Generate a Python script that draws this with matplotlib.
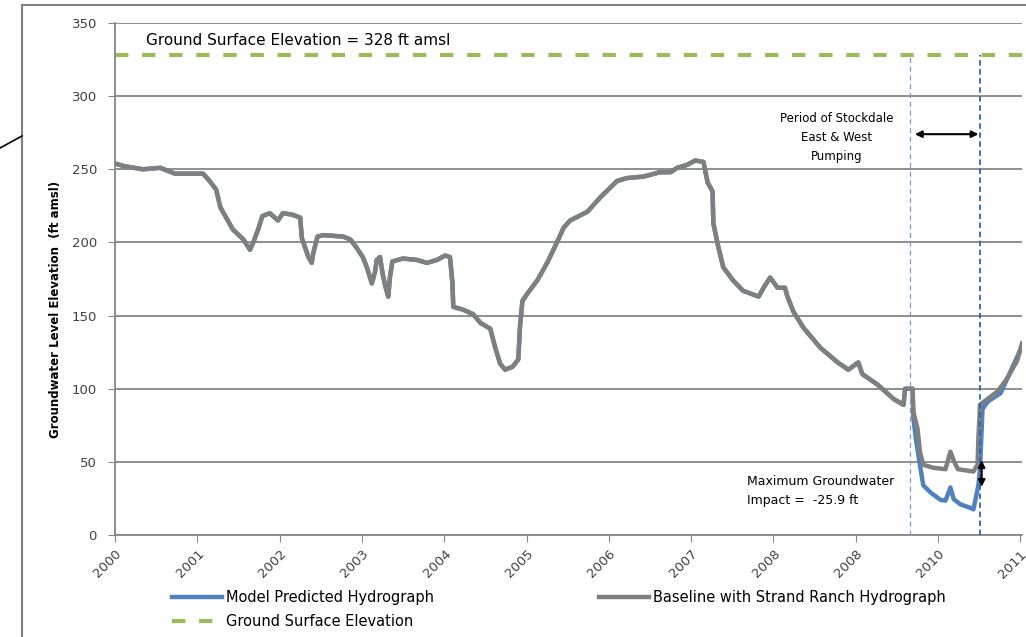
import matplotlib.pyplot as plt
from matplotlib.lines import Line2D

# baseline hydrograph (decimal years since 2000, ft amsl)
base_t = [0.00, 0.12, 0.34, 0.55, 0.73, 1.07, 1.15, 1.23, 1.28, 1.43, 1.56, 1.64, 1.68, 1.74, 1.79,
          1.88, 1.98, 2.04, 2.15, 2.25, 2.27, 2.35, 2.39, 2.41, 2.46, 2.53, 2.77, 2.86, 2.94, 3.01,
          3.06, 3.12, 3.16, 3.18, 3.22, 3.25, 3.28, 3.32, 3.34, 3.37, 3.50, 3.67, 3.79, 3.91, 4.01,
          4.07, 4.10, 4.11, 4.23, 4.35, 4.44, 4.56, 4.62, 4.68, 4.74, 4.83, 4.90, 4.92, 4.95, 5.01,
          5.13, 5.25, 5.37, 5.45, 5.53, 5.74, 5.90, 6.10, 6.22, 6.42, 6.62, 6.75, 6.83, 6.95, 7.05,
          7.15, 7.20, 7.26, 7.27, 7.33, 7.39, 7.51, 7.63, 7.82, 7.88, 7.96, 8.05, 8.14, 8.17, 8.24,
          8.36, 8.57, 8.78, 8.91, 9.03, 9.08, 9.26, 9.46, 9.58, 9.60, 9.69,
          9.70, 9.75, 9.78, 9.82, 9.94, 10.09, 10.15, 10.19, 10.24, 10.43, 10.48, 10.49, 10.51,
          10.60, 10.72, 10.84, 10.96, 11.02]
base_gw = [254, 252, 250, 251, 247, 247, 242, 236, 224, 209, 202, 195, 200, 209, 218,
           220, 215, 220, 219, 217, 203, 190, 186, 193, 204, 205, 204, 202, 196, 190,
           183, 172, 180, 188, 190, 179, 171, 163, 176, 187, 189, 188, 186, 188, 191,
           190, 172, 156, 154, 151, 145, 141, 128, 117, 113, 115, 120, 142, 160, 165,
           174, 186, 200, 210, 215, 221, 231, 242, 244, 245, 248, 248, 251, 253, 256,
           255, 241, 235, 213, 197, 183, 174, 167, 163, 169, 176, 169, 169, 163, 153,
           142, 128, 118, 113, 118, 110, 103, 93, 89, 100, 100,
           84, 73, 57, 48, 46, 45, 57, 51, 45, 43.4, 48, 66, 89,
           93, 98, 107, 119, 131]

# model predicted hydrograph: same as baseline until pumping starts
split = 101
model_t = base_t[:split] + [9.70, 9.73, 9.78, 9.82, 9.91, 10.03, 10.09, 10.15, 10.19, 10.27,
                            10.39, 10.43, 10.49, 10.51, 10.54, 10.60, 10.76, 11.02]
model_gw = base_gw[:split] + [80, 66, 48, 34, 29, 24, 23.5, 32.5, 24.5, 21,
                              18.6, 17.5, 34, 45, 86, 91, 97, 129]

ground_elev = 328
pump_start, pump_end = 9.655, 10.515
year_labels = ['2000', '2001', '2002', '2003', '2004', '2005', '2006', '2007', '2008', '2008', '2010', '2011']

plt.rcParams['font.family'] = ['Liberation Sans Narrow', 'DejaVu Sans']

fig = plt.figure(figsize=(10.26, 6.37), dpi=100)
ax = fig.add_axes([115/1026, 1-535/637, 907/1026, 512/637])

grid_c = '#868686'
for v in range(0, 351, 50):
    ax.axhline(v, color=grid_c, lw=1.3, zorder=1)

ax.plot(model_t, model_gw, color='#4f81bd', lw=3.2, zorder=3, label='Model Predicted Hydrograph')
ax.plot(base_t, base_gw, color='#7f7f7f', lw=3.2, zorder=4, label='Baseline with Strand Ranch Hydrograph')
ax.axhline(ground_elev, color='#9bbb59', lw=3, dashes=(3.2, 3.3), zorder=2, label='Ground Surface Elevation')

ax.vlines(pump_start, 0, ground_elev, colors='#7b9bc8', lw=0.9, linestyles=(0, (4, 3)), zorder=5)
ax.vlines(pump_end, 0, ground_elev, colors='#2e62b8', lw=1.3, linestyles=(0, (3, 2)), zorder=5)

ax.annotate('', xy=(pump_start + 0.03, 274), xytext=(pump_end + 0.01, 274),
            arrowprops=dict(arrowstyle='<|-|>', color='black', lw=1.5, mutation_scale=10), zorder=6)
ax.annotate('', xy=(10.53, 53), xytext=(10.53, 31),
            arrowprops=dict(arrowstyle='<|-|>', color='black', lw=1.5, mutation_scale=10), zorder=6)

ax.text(8.77, 272, 'Period of Stockdale\nEast & West\nPumping', ha='center', va='center',
        fontsize=8.5, linespacing=1.6)
ax.text(7.68, 30, 'Maximum Groundwater\nImpact =  -25.9 ft', ha='left', va='center',
        fontsize=9, linespacing=1.6)
ax.text(0.38, 338, 'Ground Surface Elevation = 328 ft amsl', ha='left', va='center', fontsize=11)

ax.set_xlim(0, 11.02)
ax.set_ylim(0, 350)
ax.set_xticks(range(12))
ax.set_xticklabels(year_labels, rotation=45, ha='right', rotation_mode='anchor',
                   fontsize=9.5, color='#404040')
ax.set_yticks(range(0, 351, 50))
ax.tick_params(axis='y', labelsize=9.5, labelcolor='#404040', color=grid_c, length=5, pad=8)
ax.tick_params(axis='x', color=grid_c, length=5, pad=4)
for s in ['top', 'right']:
    ax.spines[s].set_visible(False)
for s in ['left', 'bottom']:
    ax.spines[s].set_color(grid_c)
    ax.spines[s].set_linewidth(1.3)
ax.set_ylabel('Groundwater Level Elevation  (ft amsl)', fontsize=8.5, fontweight='bold')
ax.yaxis.set_label_coords(-0.058, 0.44)

h = ax.get_lines()
blue, grey, green = h[-3], h[-2], h[-1]
fig.legend([blue, green], [blue.get_label(), green.get_label()], loc='upper left',
           bbox_to_anchor=(165/1026, 1-583/637), frameon=False, fontsize=10.5,
           handlelength=3.4, handletextpad=0.25, labelspacing=0.6, borderpad=0)
fig.legend([grey], [grey.get_label()], loc='upper left',
           bbox_to_anchor=(592/1026, 1-583/637), frameon=False, fontsize=10.5,
           handlelength=3.4, handletextpad=0.25, borderpad=0)

# outer chart border and stray callout line
fig.add_artist(Line2D([22/1026, 22/1026], [0, 1-5/637], color='#808080', lw=1.5, transform=fig.transFigure))
fig.add_artist(Line2D([22/1026, 1], [1-5/637, 1-5/637], color='#808080', lw=1.5, transform=fig.transFigure))
fig.add_artist(Line2D([0, 22/1026], [1-148/637, 1-136/637], color='black', lw=1.2, transform=fig.transFigure))

fig.savefig('out.png', dpi=100)
